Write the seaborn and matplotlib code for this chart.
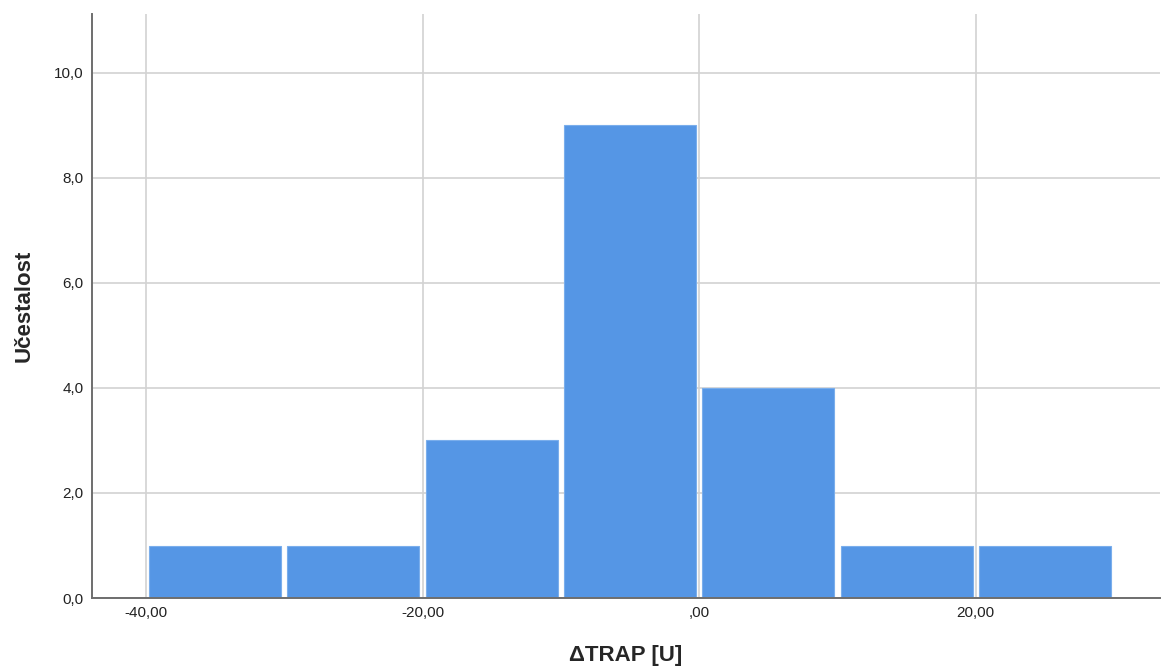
import numpy as np
import pandas as pd
import matplotlib
matplotlib.use("Agg")
import matplotlib.pyplot as plt
import seaborn as sns
from matplotlib.ticker import FixedLocator, FuncFormatter

# histogram data: bin centers and counts
bin_centers = [-35, -25, -15, -5, 5, 15, 25]
counts = [1, 1, 3, 9, 4, 1, 1]
x_ticks = [-40, -20, 0, 20]
y_ticks = [0, 2, 4, 6, 8, 10]

df = pd.DataFrame({"dtrap": bin_centers, "n": counts})

sns.set_style("white")
plt.rcParams['font.family'] = ['Liberation Sans', 'DejaVu Sans']

fig = plt.figure(figsize=(11.62, 6.67), dpi=100)
ax = fig.add_axes([0.0792, 0.1034, 0.9188, 0.8756])

sns.histplot(data=df, x="dtrap", weights="n", binwidth=10, binrange=(-40, 30),
             shrink=0.955, color="#5596E5", alpha=1, edgecolor="#7aaeec",
             linewidth=0.8, ax=ax)

ax.set_xlim(-43.9, 33.3)
ax.set_ylim(0, 11.12)
ax.xaxis.set_major_locator(FixedLocator(x_ticks))
ax.yaxis.set_major_locator(FixedLocator(y_ticks))


def fmt_x(v, pos):
    s = f"{v:.2f}".replace(".", ",")
    if s.startswith("0,"):
        s = s[1:]
    return s


ax.xaxis.set_major_formatter(FuncFormatter(fmt_x))
ax.yaxis.set_major_formatter(FuncFormatter(lambda v, p: f"{v:.1f}".replace(".", ",")))

ax.set_axisbelow(True)
ax.grid(True, color="#d2d2d2", linewidth=1.2)
ax.tick_params(axis="both", length=0, labelsize=11, colors="#222222", pad=6)

for side in ["top", "right"]:
    ax.spines[side].set_visible(False)
for side in ["left", "bottom"]:
    ax.spines[side].set_color("#6e6e6e")
    ax.spines[side].set_linewidth(1.4)

ax.set_xlabel("ΔTRAP [U]", fontsize=16, fontweight="bold", labelpad=18)
ax.set_ylabel("Učestalost", fontsize=16, fontweight="bold", labelpad=14)

fig.savefig("out.png", dpi=100)
